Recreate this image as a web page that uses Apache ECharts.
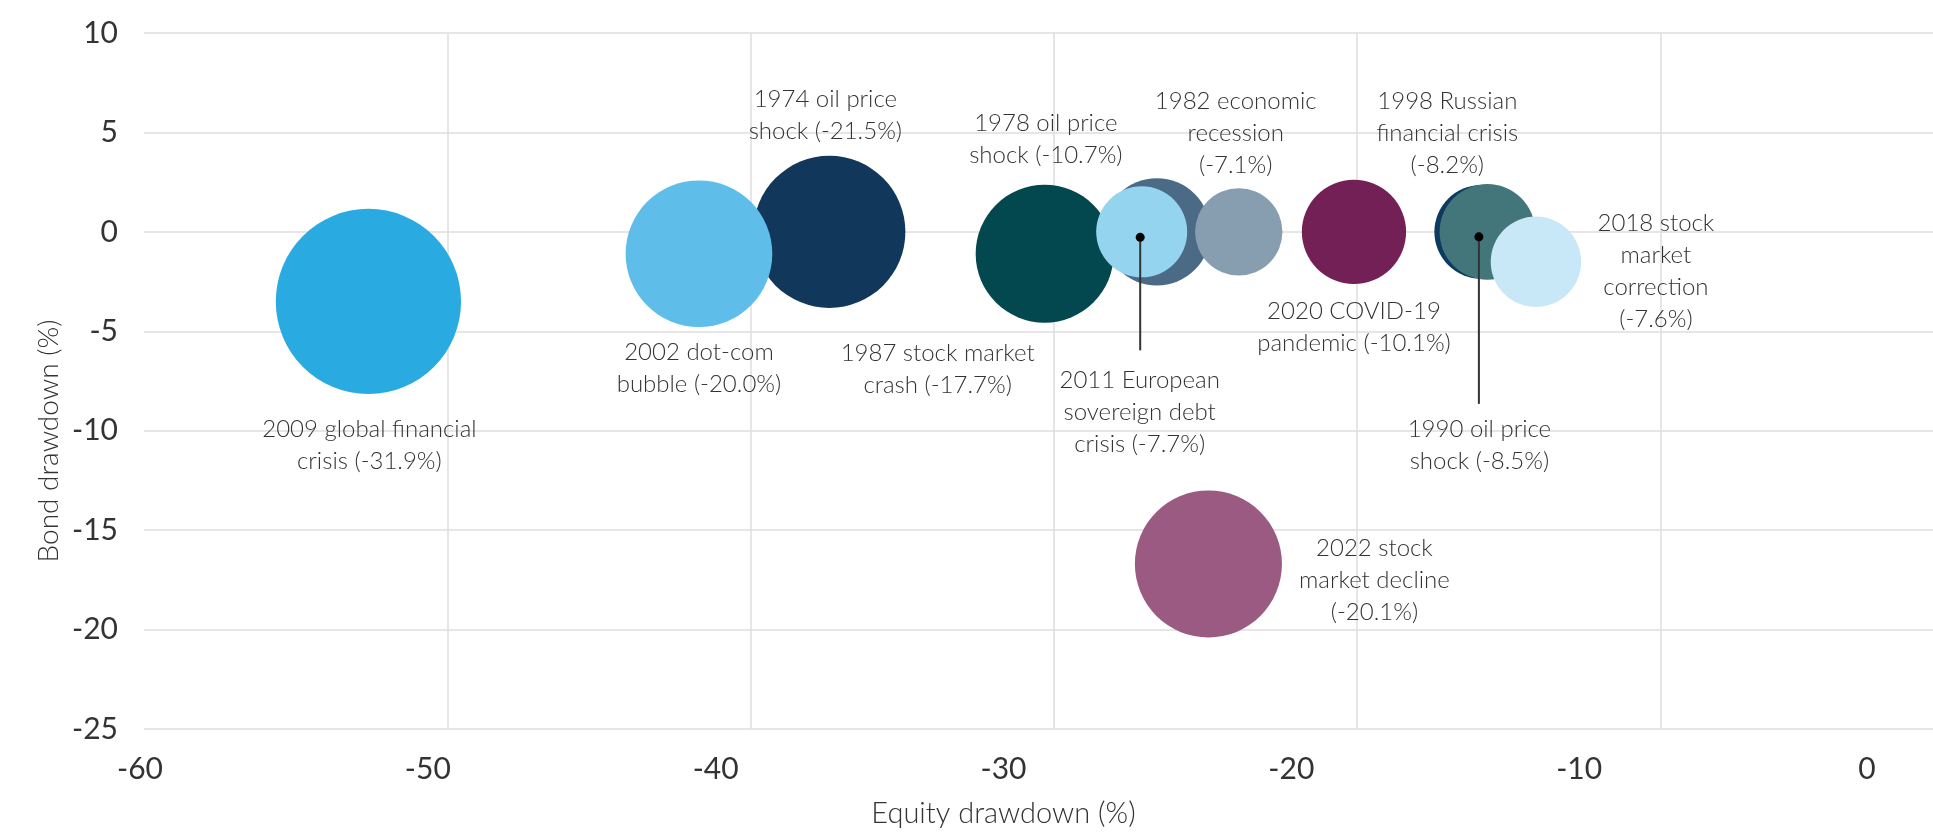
<!DOCTYPE html>
<html>
<head>
<meta charset="utf-8">
<script src="https://cdn.jsdelivr.net/npm/echarts@6/dist/echarts.min.js"></script>
<style>
  html, body { margin: 0; padding: 0; background: #ffffff; }
  #chart { width: 1933px; height: 833px; }
</style>
</head>
<body>
<div id="chart"></div>
<script>
// ---- Data ----
const events = [
  '2009 global financial\ncrisis (-31.9%)',
  '1974 oil price\nshock (-21.5%)',
  '2002 dot-com\nbubble (-20.0%)',
  '1987 stock market\ncrash (-17.7%)',
  '1978 oil price\nshock (-10.7%)',
  '2011 European\nsovereign debt\ncrisis (-7.7%)',
  '1982 economic\nrecession\n(-7.1%)',
  '2020 COVID-19\npandemic (-10.1%)',
  '1998 Russian\nfinancial crisis\n(-8.2%)',
  '1990 oil price\nshock (-8.5%)',
  '2018 stock\nmarket\ncorrection\n(-7.6%)',
  '2022 stock\nmarket decline\n(-20.1%)'
];
const equityDrawdown = [-52.6, -37.4, -41.7, -30.3, -26.6, -27.1, -23.9, -20.1, -15.9, -15.7, -14.1, -24.9];
const bondDrawdown   = [-3.5, 0.0, -1.1, -1.1, 0.0, 0.0, 0.0, 0.0, 0.0, 0.0, -1.5, -16.7];
const portfolioDrawdown = [31.9, 21.5, 20.0, 17.7, 10.7, 7.7, 7.1, 10.1, 8.2, 8.5, 7.6, 20.1];
const xTicks = { min: -60, max: 0, interval: 10 };
const yTicks = { min: -25, max: 10, interval: 5 };

// ---- Styles (not data) ----
const colors = ['#29abe2', '#11375a', '#5ebee9', '#03474f', '#4a6a86', '#94d4ef',
                '#879db0', '#732057', '#0d3a5e', '#42767a', '#c9e8f7', '#9b5a82'];
const labelOffsets = [[1, 144], [-4, -117], [0, 115], [-107, 116], [-111, -93], [-2, 180],
                      [-3, -99], [0, 95], [-34, -99], [-8, 213], [120, 10], [166, 16]];
const annotations = [ { idx: 5, dx: -1.5, dy: 5.5, len: 113 }, { idx: 9, dx: -8.5, dy: 5, len: 167 } ];
const FONT = 'Lato, "Open Sans", sans-serif';
const TXT = '#333333';

const chart = echarts.init(document.getElementById('chart'));

const scatterData = events.map((name, i) => ({
  name: name,
  value: [equityDrawdown[i], bondDrawdown[i], portfolioDrawdown[i]],
  itemStyle: { color: colors[i], opacity: 1 },
  label: { offset: labelOffsets[i] }
}));

const option = {
  animation: false,
  backgroundColor: '#ffffff',
  grid: [
    { left: 144, top: 33, width: 1819.5, bottom: 104, outerBoundsMode: 'none', containLabel: false },
    { left: 140, top: 33, width: 1727, bottom: 104, outerBoundsMode: 'none', containLabel: false }
  ],
  xAxis: [
    {
      type: 'value', gridIndex: 0, min: xTicks.min, max: xTicks.max, interval: xTicks.interval,
      axisLine: { show: false }, axisTick: { show: false }, axisLabel: { show: false },
      splitLine: { show: true, showMinLine: false, showMaxLine: false, lineStyle: { color: '#dedede', width: 1.5 } }
    },
    {
      type: 'value', gridIndex: 1, min: xTicks.min, max: xTicks.max, interval: xTicks.interval,
      axisLine: { show: false }, axisTick: { show: false }, splitLine: { show: false },
      axisLabel: { show: true, margin: 25, color: TXT, fontSize: 30, fontFamily: FONT, fontWeight: 'normal' },
      name: 'Equity drawdown (%)', nameLocation: 'middle', nameGap: 70,
      nameTextStyle: { color: TXT, fontSize: 29, fontFamily: FONT, fontWeight: 300 }
    }
  ],
  yAxis: [
    {
      type: 'value', gridIndex: 0, min: yTicks.min, max: yTicks.max, interval: yTicks.interval,
      axisLine: { show: false }, axisTick: { show: false },
      axisLabel: { show: true, margin: 26, color: TXT, fontSize: 30, fontFamily: FONT, fontWeight: 'normal' },
      splitLine: { show: true, lineStyle: { color: '#dedede', width: 1.5 } }
    },
    {
      type: 'value', gridIndex: 1, min: yTicks.min, max: yTicks.max, interval: yTicks.interval, show: false
    }
  ],
  graphic: [
    {
      type: 'text', x: 49, y: 441, rotation: Math.PI / 2,
      style: { text: 'Bond drawdown (%)', fill: TXT, fontSize: 28, fontFamily: FONT, fontWeight: 300,
               align: 'center', verticalAlign: 'middle' }
    }
  ],
  series: [
    {
      type: 'scatter', xAxisIndex: 0, yAxisIndex: 0,
      data: scatterData,
      symbolSize: v => 32.8 * Math.sqrt(v[2]),
      label: {
        show: true, position: 'inside',
        formatter: p => p.name,
        color: TXT, fontSize: 24, lineHeight: 32, fontFamily: FONT, fontWeight: 300,
        align: 'center', verticalAlign: 'middle', textBorderWidth: 0
      },
      emphasis: { disabled: true },
      z: 2
    },
    {
      type: 'custom', xAxisIndex: 0, yAxisIndex: 0, z: 5, silent: true,
      data: annotations.map(a => [equityDrawdown[a.idx], bondDrawdown[a.idx]]),
      renderItem: (params, api) => {
        const p = api.coord([api.value(0), api.value(1)]);
        const a = annotations[params.dataIndex];
        const cx = p[0] + a.dx, cy = p[1] + a.dy;
        return {
          type: 'group',
          children: [
            { type: 'line', shape: { x1: cx, y1: cy, x2: cx, y2: cy + a.len }, style: { stroke: '#333333', lineWidth: 2 } },
            { type: 'circle', shape: { cx: cx, cy: cy, r: 4.5 }, style: { fill: '#000000' } }
          ]
        };
      }
    }
  ]
};

chart.setOption(option);
</script>
</body>
</html>
